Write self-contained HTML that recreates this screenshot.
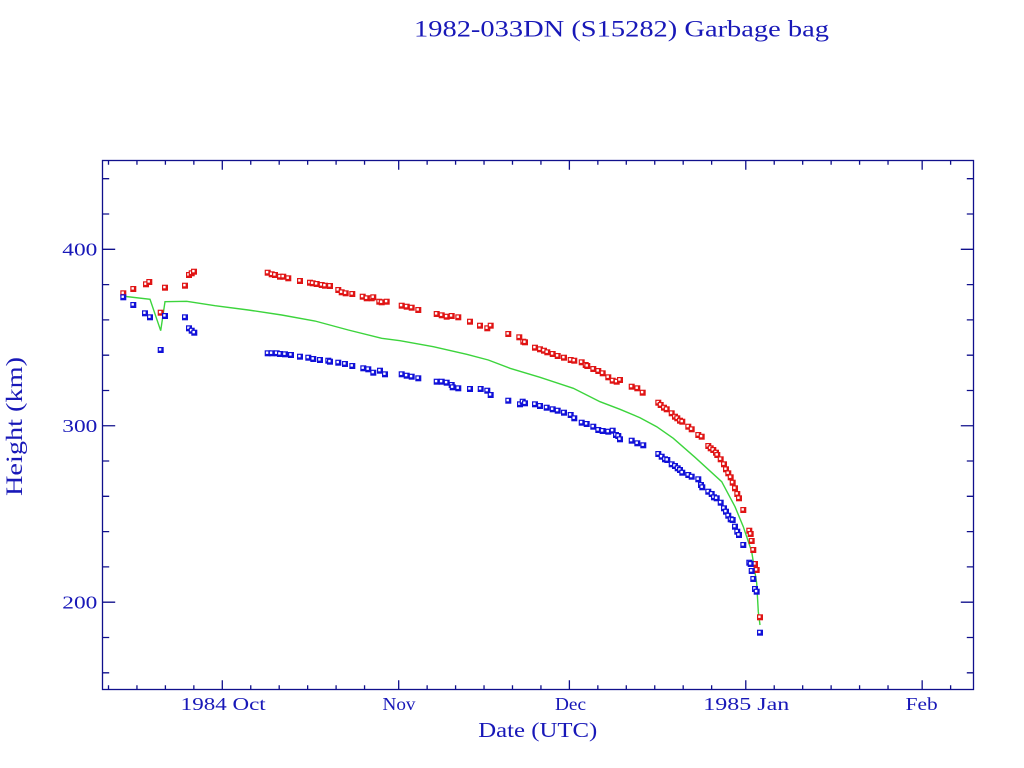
<!DOCTYPE html>
<html>
<head>
<meta charset="utf-8">
<style>
html,body{margin:0;padding:0;background:#fff;}
svg{display:block;}
text{font-family:"Liberation Serif","DejaVu Serif",serif;fill:#1818b8;}
</style>
</head>
<body>
<svg width="1024" height="768" viewBox="0 0 1024 768" xmlns="http://www.w3.org/2000/svg">
<defs>
<g id="r"><rect x="-3" y="-3" width="6" height="6" fill="#e01414"/><rect x="-1.8" y="-1.8" width="2.4" height="2.4" fill="#fff"/></g>
<g id="b"><rect x="-3" y="-3" width="6" height="6" fill="#1010d8"/><rect x="-1.8" y="-1.8" width="2.4" height="2.4" fill="#fff"/></g>
</defs>
<rect width="1024" height="768" fill="#fff"/>

<!-- Title -->
<text x="621.5" y="36.7" font-size="23" text-anchor="middle" textLength="415" lengthAdjust="spacingAndGlyphs">1982-033DN (S15282) Garbage bag</text>

<!-- Frame -->
<g stroke="#10108c" stroke-width="1.3" fill="none">
<rect x="102.5" y="160.5" width="871" height="529"/>
<path d="M102.5 672.8h6.7M102.5 637.5h6.7M102.5 602.2h12.7M102.5 566.9h6.7M102.5 531.6h6.7M102.5 496.3h6.7M102.5 461h6.7M102.5 425.75h12.7M102.5 390.5h6.7M102.5 355.2h6.7M102.5 319.9h6.7M102.5 284.6h6.7M102.5 249.3h12.7M102.5 214h6.7M102.5 178.7h6.7"/>
<path d="M973.5 672.8h-6.7M973.5 637.5h-6.7M973.5 602.2h-12.7M973.5 566.9h-6.7M973.5 531.6h-6.7M973.5 496.3h-6.7M973.5 461h-6.7M973.5 425.75h-12.7M973.5 390.5h-6.7M973.5 355.2h-6.7M973.5 319.9h-6.7M973.5 284.6h-6.7M973.5 249.3h-12.7M973.5 214h-6.7M973.5 178.7h-6.7"/>
<path d="M108.5 689.5v-4.3M136.95 689.5v-4.3M165.4 689.5v-4.3M193.85 689.5v-4.3M222.3 689.5v-9.3M250.75 689.5v-4.3M279.2 689.5v-4.3M307.65 689.5v-4.3M336.1 689.5v-4.3M364.55 689.5v-4.3M398.69 689.5v-9.3M427.14 689.5v-4.3M455.59 689.5v-4.3M484.04 689.5v-4.3M512.49 689.5v-4.3M540.94 689.5v-4.3M569.39 689.5v-9.3M597.84 689.5v-4.3M626.29 689.5v-4.3M654.74 689.5v-4.3M683.19 689.5v-4.3M711.64 689.5v-4.3M745.78 689.5v-9.3M774.23 689.5v-4.3M802.68 689.5v-4.3M831.13 689.5v-4.3M859.58 689.5v-4.3M888.03 689.5v-4.3M922.17 689.5v-9.3M950.62 689.5v-4.3"/>
<path d="M108.5 160.5v4.3M136.95 160.5v4.3M165.4 160.5v4.3M193.85 160.5v4.3M222.3 160.5v9.3M250.75 160.5v4.3M279.2 160.5v4.3M307.65 160.5v4.3M336.1 160.5v4.3M364.55 160.5v4.3M398.69 160.5v9.3M427.14 160.5v4.3M455.59 160.5v4.3M484.04 160.5v4.3M512.49 160.5v4.3M540.94 160.5v4.3M569.39 160.5v9.3M597.84 160.5v4.3M626.29 160.5v4.3M654.74 160.5v4.3M683.19 160.5v4.3M711.64 160.5v4.3M745.78 160.5v9.3M774.23 160.5v4.3M802.68 160.5v4.3M831.13 160.5v4.3M859.58 160.5v4.3M888.03 160.5v4.3M922.17 160.5v9.3M950.62 160.5v4.3"/>
</g>

<!-- Y tick labels -->
<text x="97.3" y="255.5" font-size="18" text-anchor="end" textLength="35" lengthAdjust="spacingAndGlyphs">400</text>
<text x="97.3" y="432" font-size="18" text-anchor="end" textLength="35" lengthAdjust="spacingAndGlyphs">300</text>
<text x="97.3" y="608.5" font-size="18" text-anchor="end" textLength="35" lengthAdjust="spacingAndGlyphs">200</text>

<!-- X tick labels -->
<text x="223.2" y="710" font-size="18" text-anchor="middle" textLength="85" lengthAdjust="spacingAndGlyphs">1984 Oct</text>
<text x="399" y="710" font-size="18" text-anchor="middle" textLength="33" lengthAdjust="spacingAndGlyphs">Nov</text>
<text x="570.5" y="710" font-size="18" text-anchor="middle" textLength="31" lengthAdjust="spacingAndGlyphs">Dec</text>
<text x="746.3" y="710" font-size="18" text-anchor="middle" textLength="86" lengthAdjust="spacingAndGlyphs">1985 Jan</text>
<text x="921.7" y="710" font-size="18" text-anchor="middle" textLength="32" lengthAdjust="spacingAndGlyphs">Feb</text>

<!-- Axis labels -->
<text x="537.8" y="737" font-size="21" text-anchor="middle" textLength="119" lengthAdjust="spacingAndGlyphs">Date (UTC)</text>
<text transform="translate(22,426.5) rotate(-90)" x="0" y="0" font-size="23" text-anchor="middle" textLength="139" lengthAdjust="spacingAndGlyphs">Height (km)</text>

<!-- Green model line -->
<polyline fill="none" stroke="#3cd43c" stroke-width="1.4" points="121.7,296 150,299.3 160.7,330.7 165,301.7 186.7,301.3 215,305.7 248.3,310 281.7,315 315,321 348.3,330 381.7,338.3 400,340.7 433.3,346.7 466.7,354.3 488.3,360 510,368.3 540,377.3 573.3,388.3 600,401.7 620,409.3 640,417.7 656.7,426.7 673.3,438.3 695,457.3 721.7,481.7 735,506.7 743.3,526.7 751.7,551.7 756.7,583.3 758.3,611.7 760,625"/>

<!-- Red (apogee) -->
<g>
<use href="#r" x="123.3" y="293.3"/><use href="#r" x="133.3" y="289"/><use href="#r" x="146" y="284.3"/><use href="#r" x="149.3" y="282"/><use href="#r" x="160.7" y="312.7"/><use href="#r" x="165" y="287.7"/><use href="#r" x="185" y="285.7"/><use href="#r" x="189" y="275"/><use href="#r" x="191.7" y="273.3"/><use href="#r" x="194" y="271.7"/>
<use href="#r" x="267.7" y="272.7"/><use href="#r" x="271.7" y="274.3"/><use href="#r" x="275" y="275"/><use href="#r" x="280" y="276.7"/><use href="#r" x="283.3" y="276.7"/><use href="#r" x="288.3" y="278.3"/><use href="#r" x="300" y="281"/><use href="#r" x="310" y="282.7"/><use href="#r" x="312.7" y="283.3"/><use href="#r" x="316.7" y="284"/><use href="#r" x="321.7" y="285"/><use href="#r" x="325" y="285.7"/><use href="#r" x="330" y="286"/><use href="#r" x="338.3" y="290"/><use href="#r" x="341.7" y="292.3"/><use href="#r" x="345.7" y="293.3"/><use href="#r" x="352.3" y="294"/><use href="#r" x="362.7" y="296.7"/><use href="#r" x="366.7" y="298.3"/><use href="#r" x="371.7" y="298.3"/><use href="#r" x="373.3" y="297.3"/><use href="#r" x="379.3" y="301.7"/><use href="#r" x="381.7" y="302.3"/><use href="#r" x="386.7" y="301.7"/>
<use href="#r" x="401.7" y="305.7"/><use href="#r" x="406.7" y="306.7"/><use href="#r" x="411.7" y="307.7"/><use href="#r" x="418.3" y="310"/><use href="#r" x="436.7" y="314"/><use href="#r" x="441.7" y="315.3"/><use href="#r" x="446.7" y="316.7"/><use href="#r" x="451.7" y="316"/><use href="#r" x="458.3" y="317.3"/><use href="#r" x="470" y="321.7"/><use href="#r" x="480" y="325.7"/><use href="#r" x="487.3" y="328.3"/><use href="#r" x="490.7" y="325.7"/><use href="#r" x="508.3" y="334"/><use href="#r" x="519.3" y="337.3"/><use href="#r" x="523.3" y="341.7"/><use href="#r" x="525" y="342.3"/><use href="#r" x="535" y="347.7"/><use href="#r" x="540" y="349.3"/><use href="#r" x="544" y="350.7"/><use href="#r" x="547.3" y="352.3"/><use href="#r" x="552.7" y="354"/><use href="#r" x="557.7" y="356"/><use href="#r" x="564" y="357.7"/><use href="#r" x="570.7" y="360"/><use href="#r" x="574.3" y="360.7"/><use href="#r" x="581.7" y="362.3"/><use href="#r" x="585.7" y="365"/><use href="#r" x="587.3" y="366"/><use href="#r" x="593.3" y="369"/><use href="#r" x="598.3" y="371"/><use href="#r" x="602.7" y="373.3"/><use href="#r" x="608.3" y="377.3"/><use href="#r" x="612.7" y="380.7"/><use href="#r" x="616.7" y="381.7"/><use href="#r" x="620" y="380"/><use href="#r" x="631.7" y="386.7"/><use href="#r" x="637.3" y="388.3"/><use href="#r" x="642.7" y="392.7"/>
<use href="#r" x="658.3" y="402.7"/><use href="#r" x="660.7" y="405"/><use href="#r" x="664" y="407.7"/><use href="#r" x="666.7" y="409.3"/><use href="#r" x="671.7" y="413.3"/><use href="#r" x="675" y="416.7"/><use href="#r" x="677.3" y="418.3"/><use href="#r" x="680" y="420.7"/><use href="#r" x="682.3" y="421.7"/><use href="#r" x="688.3" y="426.7"/><use href="#r" x="691.7" y="429.3"/><use href="#r" x="698.3" y="435"/><use href="#r" x="701.7" y="436.7"/><use href="#r" x="708.3" y="446"/><use href="#r" x="710.7" y="448.3"/><use href="#r" x="713.3" y="450"/><use href="#r" x="716" y="452.7"/><use href="#r" x="717.3" y="455"/><use href="#r" x="720.7" y="459.3"/><use href="#r" x="724" y="464.3"/><use href="#r" x="726" y="469.3"/><use href="#r" x="728.3" y="473.3"/><use href="#r" x="730.7" y="477.3"/><use href="#r" x="732.7" y="482.7"/><use href="#r" x="735" y="488.3"/><use href="#r" x="737.3" y="494"/><use href="#r" x="739" y="498.3"/><use href="#r" x="743.3" y="510"/><use href="#r" x="749.3" y="530.7"/><use href="#r" x="750.7" y="534"/><use href="#r" x="751.7" y="541"/><use href="#r" x="753.3" y="550"/><use href="#r" x="755" y="564"/><use href="#r" x="756.7" y="570"/><use href="#r" x="760" y="617.3"/>
</g>

<!-- Blue (perigee) -->
<g>
<use href="#b" x="123.3" y="297.3"/><use href="#b" x="133.3" y="305"/><use href="#b" x="145" y="313.3"/><use href="#b" x="150" y="317.3"/><use href="#b" x="165" y="316"/><use href="#b" x="160.7" y="350"/><use href="#b" x="185" y="317.3"/><use href="#b" x="189" y="328.3"/><use href="#b" x="191.7" y="330.7"/><use href="#b" x="194.3" y="332.7"/>
<use href="#b" x="267.7" y="353.3"/><use href="#b" x="271.7" y="353.3"/><use href="#b" x="276.7" y="353.3"/><use href="#b" x="280" y="354"/><use href="#b" x="285" y="354.3"/><use href="#b" x="291" y="355"/><use href="#b" x="300" y="356.7"/><use href="#b" x="308.3" y="357.7"/><use href="#b" x="313.3" y="359"/><use href="#b" x="320" y="360"/><use href="#b" x="328.3" y="360.7"/><use href="#b" x="330" y="361.7"/><use href="#b" x="338.3" y="362.7"/><use href="#b" x="345" y="364"/><use href="#b" x="352.3" y="366"/><use href="#b" x="363.3" y="368.3"/><use href="#b" x="368.3" y="369.3"/><use href="#b" x="373.3" y="372.7"/><use href="#b" x="380" y="370.7"/><use href="#b" x="385" y="374.3"/>
<use href="#b" x="401.7" y="374.3"/><use href="#b" x="406.7" y="375.7"/><use href="#b" x="411.7" y="376.7"/><use href="#b" x="418.3" y="378.3"/><use href="#b" x="436.7" y="381.7"/><use href="#b" x="441.7" y="381.7"/><use href="#b" x="446.7" y="382.7"/><use href="#b" x="451.7" y="385"/><use href="#b" x="452.7" y="387.3"/><use href="#b" x="458.3" y="388.3"/><use href="#b" x="470" y="389"/><use href="#b" x="480.7" y="389"/><use href="#b" x="487.3" y="390.7"/><use href="#b" x="490.7" y="395"/><use href="#b" x="508.3" y="400.7"/><use href="#b" x="520" y="404.3"/><use href="#b" x="522.7" y="401.7"/><use href="#b" x="525" y="403.3"/><use href="#b" x="535" y="404.3"/><use href="#b" x="540" y="406"/><use href="#b" x="546.7" y="407.7"/><use href="#b" x="552.7" y="409.3"/><use href="#b" x="557.7" y="410.7"/><use href="#b" x="564" y="412.7"/><use href="#b" x="570.7" y="415"/><use href="#b" x="574.3" y="418.3"/><use href="#b" x="581.7" y="422.7"/><use href="#b" x="586.7" y="424"/><use href="#b" x="593.3" y="426.7"/><use href="#b" x="598.3" y="430"/><use href="#b" x="602.7" y="431"/><use href="#b" x="608.3" y="431.7"/><use href="#b" x="612.7" y="430.7"/><use href="#b" x="616" y="435"/><use href="#b" x="618.3" y="436"/><use href="#b" x="620" y="439.3"/><use href="#b" x="631.7" y="440.7"/><use href="#b" x="637.3" y="443.3"/><use href="#b" x="643.3" y="445.3"/>
<use href="#b" x="658.3" y="454"/><use href="#b" x="661.7" y="456.7"/><use href="#b" x="665" y="459.3"/><use href="#b" x="667.3" y="460"/><use href="#b" x="671.7" y="464.3"/><use href="#b" x="675" y="466"/><use href="#b" x="677.7" y="468.3"/><use href="#b" x="680" y="470"/><use href="#b" x="682.3" y="472.7"/><use href="#b" x="688.3" y="475"/><use href="#b" x="691.7" y="476.7"/><use href="#b" x="698.3" y="479.3"/><use href="#b" x="701" y="485"/><use href="#b" x="702.3" y="487.3"/><use href="#b" x="708.3" y="491.7"/><use href="#b" x="711.7" y="494"/><use href="#b" x="714" y="497.3"/><use href="#b" x="716.7" y="498.3"/><use href="#b" x="720.7" y="502.7"/><use href="#b" x="724" y="508.3"/><use href="#b" x="726" y="511.7"/><use href="#b" x="728.3" y="515.7"/><use href="#b" x="730.7" y="519.3"/><use href="#b" x="732.7" y="520"/><use href="#b" x="735" y="526.7"/><use href="#b" x="737.3" y="531.7"/><use href="#b" x="739" y="535"/><use href="#b" x="743.3" y="545"/><use href="#b" x="749.3" y="562.7"/><use href="#b" x="750.7" y="564"/><use href="#b" x="751.7" y="571"/><use href="#b" x="753.3" y="579"/><use href="#b" x="755" y="589"/><use href="#b" x="756.7" y="591.7"/><use href="#b" x="760" y="632.7"/>
</g>
</svg>
</body>
</html>
